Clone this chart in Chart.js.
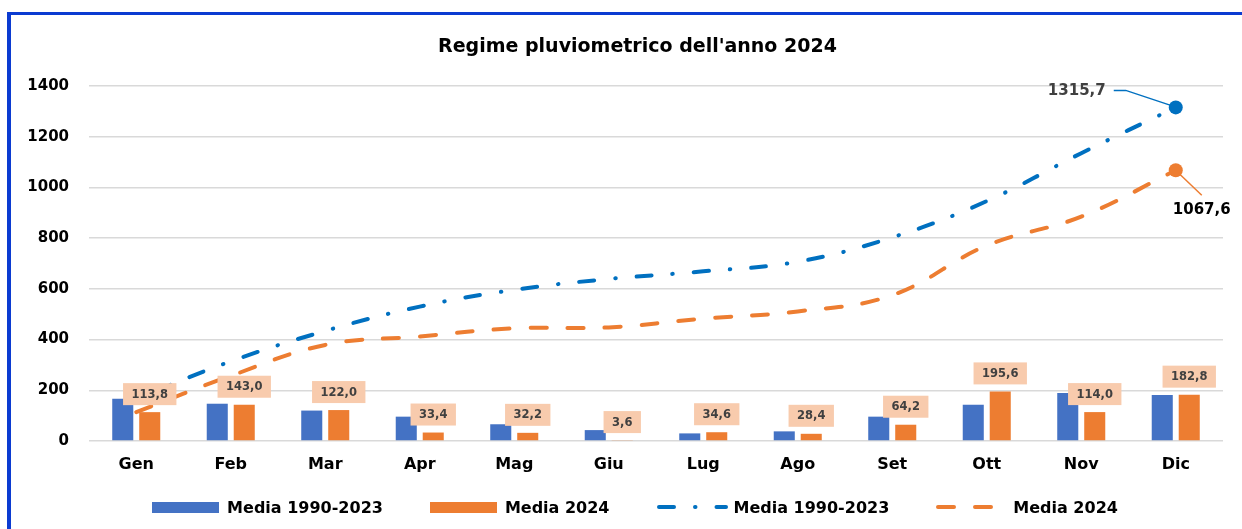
<!DOCTYPE html>
<html>
<head>
<meta charset="utf-8">
<title>Regime pluviometrico 2024</title>
<script src="https://cdn.jsdelivr.net/npm/chart.js@4.4.1/dist/chart.umd.min.js"></script>
<style>
    body { margin: 0; background: #fff; }
    #wrap { position: relative; width: 1242px; height: 529px; overflow: hidden; background: #fff; }
    #frame { position: absolute; left: 7px; top: 12px; width: 1400px; height: 700px;
             border-left: 4px solid #0b3bd1; border-top: 3px solid #0b3bd1; }
    #box { position: absolute; left: 0; top: 0; width: 1242px; height: 529px; }
    #titolo { position: absolute; left: 0; width: 1275px; top: 34px; line-height: 24px;
              text-align: center; font: bold 19px "DejaVu Sans", sans-serif; color: #000; }
    #legend { position: absolute; left: 28px; width: 1214px; top: 495px; height: 24px;
              display: flex; justify-content: center; align-items: center; gap: 47px;
              font: bold 16px "DejaVu Sans", sans-serif; color: #000; }
    .item { display: flex; align-items: center; white-space: nowrap; }
</style>
</head>
<body>
<div id="wrap">
    <div id="frame"></div>
    <div id="box"><canvas id="pioggia"></canvas></div>
    <div id="titolo">Regime pluviometrico dell'anno 2024</div>
    <div id="legend"></div>
</div>
<script>
// dati
const mesi = ['Gen', 'Feb', 'Mar', 'Apr', 'Mag', 'Giu', 'Lug', 'Ago', 'Set', 'Ott', 'Nov', 'Dic'];
const media9023 = [167, 147, 120, 96, 66, 43, 30, 38, 96, 143, 189, 181];
const media2024 = [113.8, 143.0, 122.0, 33.4, 32.2, 3.6, 34.6, 28.4, 64.2, 195.6, 114.0, 182.8];
const cumulata9023 = [167, 314, 434, 530, 596, 639, 669, 707, 803, 946, 1135, 1315.7];
const cumulata2024 = [113.8, 256.8, 378.8, 412.2, 444.4, 448.0, 482.6, 511.0, 575.2, 770.8, 884.8, 1067.6];
const yMin = 0, yMax = 1400, yStep = 200;

const BLU_BAR = '#4472C4';
const ARANCIO = '#ED7D31';
const BLU_LINEA = '#0070C0';
const FONT = '"DejaVu Sans", sans-serif';

function fmt(v) {
    return v.toFixed(1).replace('.', ',');
}

// etichette sulle barre 2024 e valori finali delle cumulate
const etichette = {
    id: 'etichette',
    afterDatasetsDraw(chart) {
        const ctx = chart.ctx;
        ctx.save();

        ctx.font = 'bold 11.5px ' + FONT;
        ctx.textAlign = 'center';
        ctx.textBaseline = 'middle';
        chart.getDatasetMeta(1).data.forEach((bar, i) => {
            const txt = fmt(media2024[i]);
            const w = ctx.measureText(txt).width + 17;
            const h = 22;
            const bottom = bar.y - 7;
            ctx.fillStyle = '#F8CBAD';
            ctx.fillRect(bar.x - w / 2, bottom - h, w, h);
            ctx.fillStyle = '#404040';
            ctx.fillText(txt, bar.x, bottom - h / 2 + 0.5);
        });

        // 1315,7
        const last = cumulata9023.length - 1;
        const pb = chart.getDatasetMeta(2).data[last];
        ctx.strokeStyle = BLU_LINEA;
        ctx.lineWidth = 1.5;
        ctx.beginPath();
        ctx.moveTo(pb.x - 5, pb.y - 2);
        ctx.lineTo(pb.x - 50, pb.y - 17);
        ctx.lineTo(pb.x - 62, pb.y - 17);
        ctx.stroke();
        ctx.font = 'bold 15px ' + FONT;
        ctx.textAlign = 'right';
        ctx.fillStyle = '#404040';
        ctx.fillText(fmt(cumulata9023[last]), pb.x - 70, pb.y - 16);

        // 1067,6
        const po = chart.getDatasetMeta(3).data[last];
        ctx.strokeStyle = ARANCIO;
        ctx.beginPath();
        ctx.moveTo(po.x + 3, po.y + 3);
        ctx.lineTo(po.x + 26, po.y + 25);
        ctx.stroke();
        ctx.textAlign = 'center';
        ctx.fillStyle = '#000';
        ctx.fillText(fmt(cumulata2024[last]), po.x + 26, po.y + 40);

        ctx.restore();
    }
};

const ultimo = (c) => c.dataIndex === mesi.length - 1 ? 7 : 0;

const chart = new Chart(document.getElementById('pioggia'), {
    type: 'bar',
    data: {
        labels: mesi,
        datasets: [
            {
                label: 'Media 1990-2023',
                data: media9023,
                backgroundColor: BLU_BAR,
                order: 2,
                categoryPercentage: 0.571,
                barPercentage: 0.78
            },
            {
                label: 'Media 2024',
                data: media2024,
                backgroundColor: ARANCIO,
                order: 2,
                categoryPercentage: 0.571,
                barPercentage: 0.78
            },
            {
                type: 'line',
                label: 'Media 1990-2023',
                data: cumulata9023,
                borderColor: BLU_LINEA,
                backgroundColor: BLU_LINEA,
                borderWidth: 4,
                borderDash: [15, 21, 0.5, 21],
                borderCapStyle: 'round',
                tension: 0.4,
                pointRadius: ultimo,
                pointBorderWidth: 0,
                order: 1
            },
            {
                type: 'line',
                label: 'Media 2024',
                data: cumulata2024,
                borderColor: ARANCIO,
                backgroundColor: ARANCIO,
                borderWidth: 4,
                borderDash: [16, 21],
                borderCapStyle: 'round',
                tension: 0.4,
                pointRadius: ultimo,
                pointBorderWidth: 0,
                order: 1
            }
        ]
    },
    options: {
        responsive: true,
        maintainAspectRatio: false,
        animation: false,
        layout: { padding: { top: 86, left: 14, right: 19, bottom: 48 } },
        plugins: {
            legend: { display: false },
            tooltip: { enabled: false }
        },
        scales: {
            x: {
                grid: { display: false },
                border: { display: false },
                ticks: {
                    color: '#000',
                    padding: 6,
                    font: { family: FONT, size: 16, weight: 'bold' }
                },
                afterFit(scale) { scale.height = 40; }
            },
            y: {
                min: yMin,
                max: yMax,
                grid: { color: '#d9d9d9', lineWidth: 1.5, drawTicks: false },
                border: { display: false },
                ticks: {
                    stepSize: yStep,
                    color: '#000',
                    padding: 20,
                    font: { family: FONT, size: 15, weight: 'bold' },
                    callback: (v) => String(v)
                },
                afterFit(scale) { scale.width = 75; }
            }
        }
    },
    plugins: [etichette]
});

// legenda HTML costruita dai dataset
const campioni = [
    { w: 67, gap: 8 },
    { w: 67, gap: 8 },
    { w: 71, gap: 6 },
    { w: 57, gap: 20 }
];
const legend = document.getElementById('legend');
chart.data.datasets.forEach((ds, i) => {
    const item = document.createElement('div');
    item.className = 'item';
    const c = campioni[i];
    let sample;
    if (ds.type === 'line') {
        const ns = 'http://www.w3.org/2000/svg';
        sample = document.createElementNS(ns, 'svg');
        sample.setAttribute('width', c.w);
        sample.setAttribute('height', 12);
        const ln = document.createElementNS(ns, 'line');
        ln.setAttribute('x1', 2);
        ln.setAttribute('x2', c.w - 2);
        ln.setAttribute('y1', 6);
        ln.setAttribute('y2', 6);
        ln.setAttribute('stroke', ds.borderColor);
        ln.setAttribute('stroke-width', ds.borderWidth);
        ln.setAttribute('stroke-linecap', 'round');
        ln.setAttribute('stroke-dasharray', ds.borderDash.join(' '));
        sample.appendChild(ln);
    } else {
        sample = document.createElement('div');
        sample.style.width = c.w + 'px';
        sample.style.height = '11px';
        sample.style.background = ds.backgroundColor;
    }
    sample.style.marginRight = c.gap + 'px';
    sample.style.flex = 'none';
    const txt = document.createElement('span');
    txt.textContent = ds.label;
    item.appendChild(sample);
    item.appendChild(txt);
    legend.appendChild(item);
});
</script>
</body>
</html>
